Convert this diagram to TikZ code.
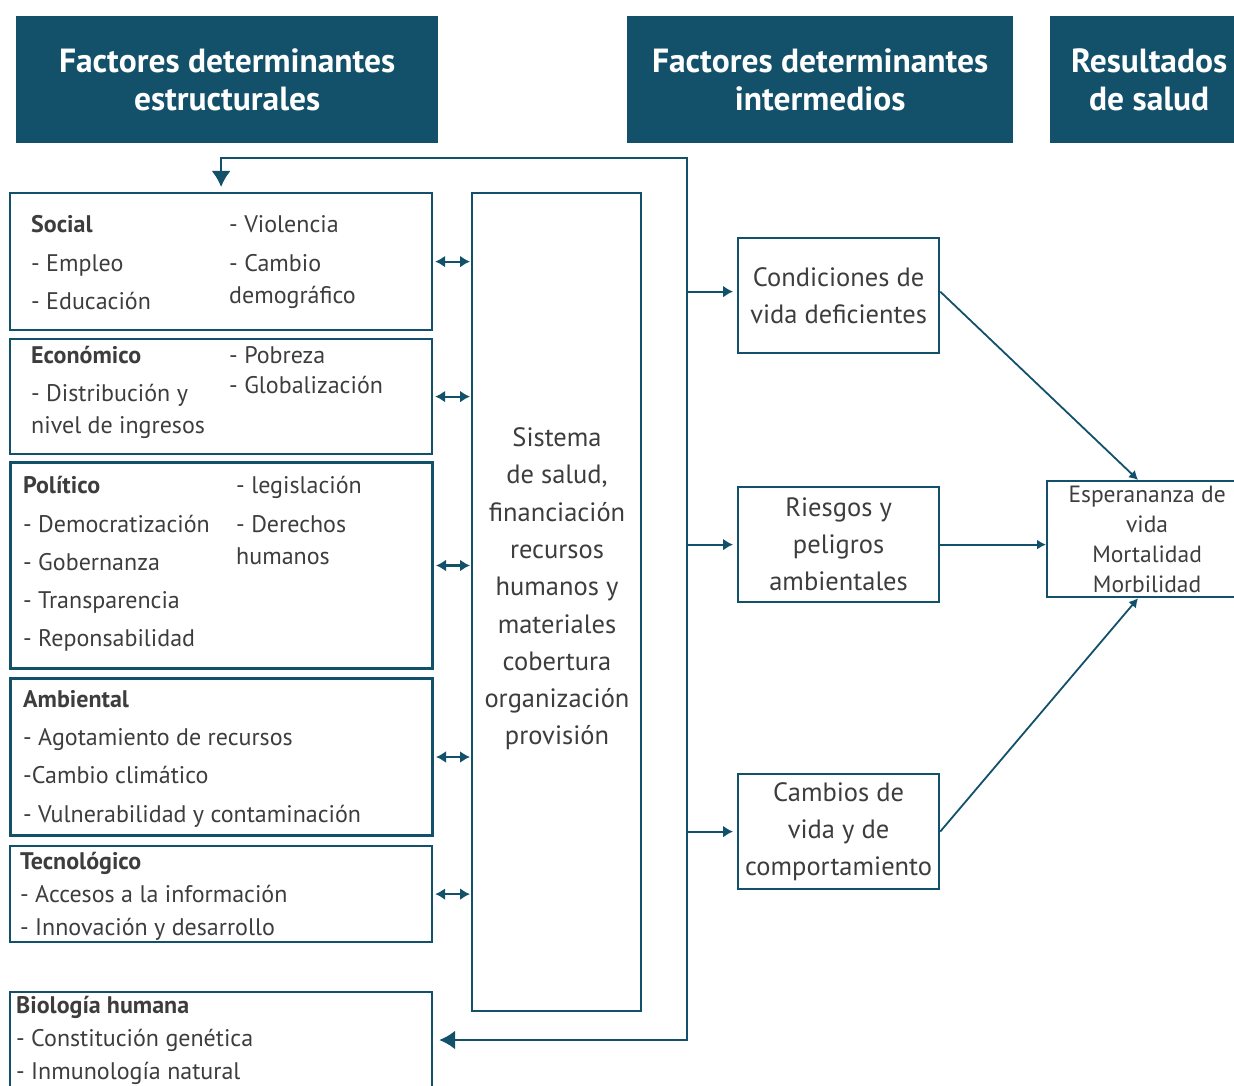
\documentclass[tikz,border=0pt]{standalone}
\usepackage{fontspec}
\setmainfont{PT Sans}
\usetikzlibrary{arrows.meta}
\definecolor{petrol}{HTML}{13516B}
\definecolor{texto}{HTML}{3D3D3D}
\tikzstyle{header}=[fill=petrol,text=white,font=\fontsize{33.5}{38}\selectfont\bfseries,align=center,inner sep=0pt,anchor=north west]
\tikzstyle{caja}=[draw=petrol,line width=2.2pt,inner sep=0pt,anchor=north west,text=texto]
\tikzstyle{item}=[text=texto,font=\fontsize{24}{30}\selectfont,inner sep=0pt,anchor=base west]
\tikzstyle{titulo}=[item,font=\fontsize{24}{30}\selectfont\bfseries]
\tikzstyle{doble}=[line width=2.2pt,draw=petrol,{Latex[length=10pt,width=12pt]}-{Latex[length=10pt,width=12pt]},shorten <=2pt,shorten >=1pt]
\tikzstyle{flecha}=[line width=2.2pt,draw=petrol,-{Latex[length=10pt,width=12pt]}]
\tikzstyle{lazo}=[line width=2.2pt,draw=petrol,{Latex[length=16pt,width=19pt]}-{Latex[length=16pt,width=19pt]}]

\begin{document}
\begin{tikzpicture}[x=1pt,y=-1pt]
\useasboundingbox (0,0) rectangle (1234,1086);
% encabezados
\node[header,minimum width=422pt,minimum height=127pt] (hEstr) at (16,16) {Factores determinantes\\estructurales};
\node[header,minimum width=386pt,minimum height=127pt] (hInter) at (627,16) {Factores determinantes\\intermedios};
\node[header,minimum width=198pt,minimum height=127pt] (hRes) at (1050,16) {Resultados\\de salud};

% factores estructurales
\node[caja,minimum width=422pt,minimum height=137pt] (social) at (9,192) {};
\node[titulo] (socT) at (31,233) {Social};
\node[item] (soc1) at (31,271) {- Empleo};
\node[item] (soc2) at (31,309) {- Educación};
\node[item] (soc3) at (229,233) {- Violencia};
\node[item] (soc4) at (229,271) {- Cambio};
\node[item] (soc5) at (229,303) {demográfico};

\node[caja,minimum width=422pt,minimum height=115pt] (econ) at (9,338) {};
\node[titulo] (ecoT) at (31,363) {Económico};
\node[item] (eco1) at (31,401) {- Distribución y};
\node[item] (eco2) at (31,433) {nivel de ingresos};
\node[item] (eco3) at (229,363) {- Pobreza};
\node[item] (eco4) at (229,393) {- Globalización};

\node[caja,line width=3pt,minimum width=422pt,minimum height=206pt] (polit) at (9,461) {};
\node[titulo] (polT) at (23,493) {Político};
\node[item] (pol1) at (23,532) {- Democratización};
\node[item] (pol2) at (23,570) {- Gobernanza};
\node[item] (pol3) at (23,608) {- Transparencia};
\node[item] (pol4) at (23,646) {- Reponsabilidad};
\node[item] (pol5) at (236,493) {- legislación};
\node[item] (pol6) at (236,532) {- Derechos};
\node[item] (pol7) at (236,564) {humanos};

\node[caja,line width=3pt,minimum width=422pt,minimum height=157pt] (amb) at (9,677) {};
\node[titulo] (ambT) at (23,707) {Ambiental};
\node[item] (amb1) at (23,745) {- Agotamiento de recursos};
\node[item] (amb2) at (23,783) {-Cambio climático};
\node[item] (amb3) at (23,822) {- Vulnerabilidad y contaminación};

\node[caja,minimum width=422pt,minimum height=96pt] (tecno) at (9,845) {};
\node[titulo] (tecT) at (20,869) {Tecnológico};
\node[item] (tec1) at (20,902) {- Accesos a la información};
\node[item] (tec2) at (20,935) {- Innovación y desarrollo};

\node[caja,minimum width=422pt,minimum height=110pt] (biol) at (9,991) {};
\node[titulo] (bioT) at (16,1013) {Biología humana};
\node[item] (bio1) at (16,1046) {- Constitución genética};
\node[item] (bio2) at (16,1079) {- Inmunología natural};

% sistema de salud
\node[caja,minimum width=169pt,minimum height=818pt] (sistema) at (471,192) {};
\node[text=texto,font=\fontsize{26.5}{37.3}\selectfont,align=center,inner sep=0pt] (sisT) at (557,589) {Sistema\\de salud,\\financiación\\recursos\\humanos y\\materiales\\cobertura\\organización\\provisión};

% factores intermedios
\node[caja,minimum width=201pt,minimum height=115pt,align=center,font=\fontsize{26.5}{37}\selectfont] (cond) at (737,237) {Condiciones de\\vida deficientes};
\node[caja,minimum width=201pt,minimum height=115pt,align=center,font=\fontsize{26.5}{37}\selectfont] (riesgo) at (737,486) {Riesgos y\\peligros\\ambientales};
\node[caja,minimum width=201pt,minimum height=115pt,align=center,font=\fontsize{26.5}{37}\selectfont] (cambio) at (737,773) {Cambios de\\vida y de\\comportamiento};

% resultados
\node[caja,minimum width=200pt,minimum height=116pt,align=center,font=\fontsize{23.5}{30}\selectfont] (result) at (1046,480) {Esperananza de\\vida\\Mortalidad\\Morbilidad};

% lazo
\coordinate (lazoA) at (687,158);
\coordinate (lazoB) at (687,1040);
\draw[lazo,shorten <=5pt,shorten >=6pt] (social.north) |- (lazoA) -- (lazoB) -- (lazoB -| biol.east);

\draw[doble] (social.east) -- (social.east -| sistema.west);
\draw[doble] (econ.east) -- (econ.east -| sistema.west);
\draw[doble] (polit.east) -- (polit.east -| sistema.west);
\draw[doble] (amb.east) -- (amb.east -| sistema.west);
\draw[doble] (tecno.east) -- (tecno.east -| sistema.west);

\draw[flecha,shorten >=4pt] ([yshift=4pt]cond.west -| lazoA) -- ([yshift=4pt]cond.west);
\draw[flecha,shorten >=4pt] (riesgo.west -| lazoA) -- (riesgo.west);
\draw[flecha,shorten >=4pt] (cambio.west -| lazoA) -- (cambio.west);

\draw[line width=1.8pt,draw=petrol,-{Latex[length=9pt,width=10pt]}] ([yshift=4pt]cond.east) -- ([xshift=-9pt]result.north);
\draw[line width=1.8pt,draw=petrol,-{Latex[length=9pt,width=10pt]}] (riesgo.east) -- (riesgo.east -| result.west);
\draw[line width=1.8pt,draw=petrol,-{Latex[length=9pt,width=10pt]}] (cambio.east) -- ([xshift=-9pt]result.south);
\end{tikzpicture}
\end{document}
